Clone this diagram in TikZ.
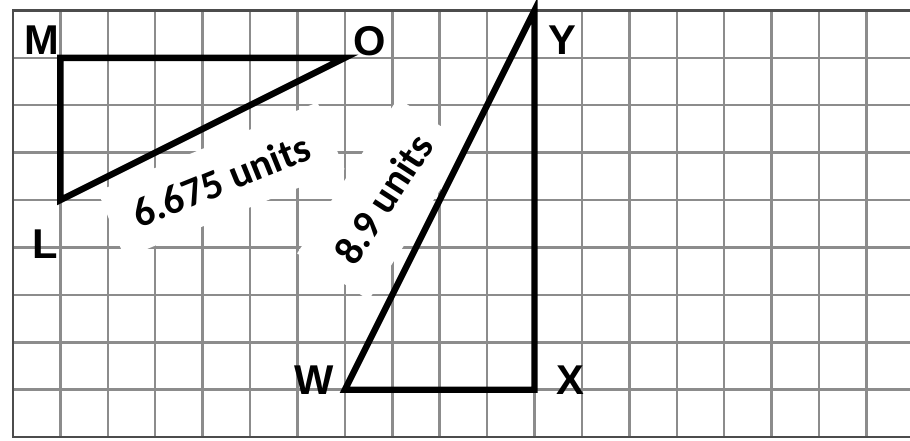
\documentclass[tikz,border=0pt]{standalone}
\usepackage{fontspec}
\setmainfont{Liberation Sans}
\newfontfamily\unitfont{Carlito}

\begin{document}
\begin{tikzpicture}[font=\bfseries\fontsize{25}{25}\selectfont,
    gridline/.style={black!45, line width=1.5pt},
    side/.style={line width=3.8pt, line join=miter},
    lengthlabel/.style={fill=white, inner sep=0pt,
      font=\unitfont\bfseries\fontsize{24.5}{24.5}\selectfont}]
  \useasboundingbox (-0.274,-0.063) rectangle (18.92,9.22);
  \fill[white] (-0.274,-0.063) rectangle (18.92,9.22);
  % squared paper
  \foreach \x in {1,...,18}
    \draw[gridline] (\x,0) -- (\x,9);
  \foreach \y in {1,...,8}
    \draw[gridline] (0,\y) -- (18.92,\y);
  \draw[black!70, line width=1.6pt] (18.92,9) -- (0,9) -- (0,0) -- (18.92,0);
  % corners of the two triangles
  \coordinate (L) at (1,5);
  \coordinate (M) at (1,8);
  \coordinate (O) at (7,8);
  \coordinate (W) at (7,1);
  \coordinate (X) at (11,1);
  \coordinate (Y) at (11,9);
  % side lengths on white patches
  \node[lengthlabel, rotate=22, minimum width=5cm, minimum height=1.52cm]
    (lolabel) at (4.39,5.42) {6.675 units};
  \node[lengthlabel, rotate=57, minimum width=3.9cm, minimum height=1.8cm]
    (wylabel) at (7.81,5.02) {8.9 units};
  \draw[side] (L) -- (M) -- (O) -- cycle;
  \draw[side] (W) -- (X) -- (Y) -- cycle;
  % vertex names
  \foreach \p/\n in {{(0.61,8.38)}/M, {(7.53,8.35)}/O, {(11.58,8.38)}/Y,
      {(0.67,4.07)}/L, {(6.35,1.2)}/W, {(11.75,1.2)}/X}
    \node (name\n) at \p {\n};
\end{tikzpicture}
\end{document}
